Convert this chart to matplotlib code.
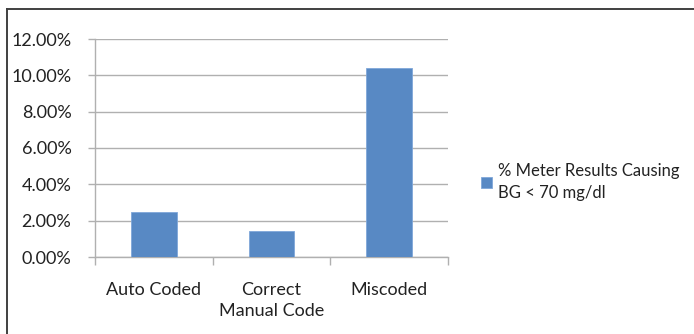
import matplotlib.pyplot as plt
from matplotlib.lines import Line2D
from matplotlib.ticker import FuncFormatter, FixedLocator

categories = ["Auto Coded", "Correct\nManual Code", "Miscoded"]
values = [2.5, 1.43, 10.43]
series_label = "% Meter Results Causing\nBG < 70 mg/dl"

plt.rcParams["font.family"] = ["Lato", "DejaVu Sans"]
plt.rcParams["font.size"] = 13

bar_color = "#5889C4"
grid_color = "#B0B0B0"
text_color = "#222222"

W, H = 694, 334
fig = plt.figure(figsize=(W / 100, H / 100), dpi=100)
ax = fig.add_axes([95 / W, 1 - 257 / H, (448 - 95) / W, (257 - 39) / H])

x = list(range(len(categories)))
bars = ax.bar(x, values, width=0.39, color=bar_color, edgecolor="#7FA7D9",
              linewidth=0.6, label=series_label, zorder=3)

ax.set_xlim(-0.5, len(categories) - 0.5)
ax.set_ylim(0, 12)
ax.set_yticks([0, 2, 4, 6, 8, 10, 12])
ax.yaxis.set_major_formatter(FuncFormatter(lambda v, p: f"{v:.2f}%"))
ax.yaxis.grid(True, color=grid_color, linewidth=1.0, zorder=0)

ax.set_xticks(x)
ax.set_xticklabels(categories, color=text_color, linespacing=1.35)
ax.tick_params(axis="x", length=0, pad=18)
ax.xaxis.set_minor_locator(FixedLocator([-0.5, 0.5, 1.5, 2.5]))
ax.tick_params(axis="x", which="minor", length=6, color=grid_color, width=1)
ax.tick_params(axis="y", length=5, color=grid_color, width=1, pad=12, labelcolor=text_color)

for side in ["top", "right"]:
    ax.spines[side].set_visible(False)
for side in ["left", "bottom"]:
    ax.spines[side].set_color(grid_color)
    ax.spines[side].set_linewidth(1.0)

leg = fig.legend(handles=[bars], labels=[series_label], loc="upper left",
                 bbox_to_anchor=(466 / W, 1 - 148 / H), frameon=False,
                 handlelength=0.65, handleheight=0.65, handletextpad=0.35,
                 fontsize=12, labelspacing=0.2)
for t in leg.get_texts():
    t.set_color(text_color)
    t.set_linespacing(1.45)

# chart border (only top and left edges are visible in the crop)
fig.add_artist(Line2D([7 / W, 1], [1 - 9 / H, 1 - 9 / H], transform=fig.transFigure,
                      color="#404040", linewidth=1.4))
fig.add_artist(Line2D([7 / W, 7 / W], [1 - 9 / H, 0], transform=fig.transFigure,
                      color="#404040", linewidth=1.4))

fig.savefig("out.png", dpi=100)
